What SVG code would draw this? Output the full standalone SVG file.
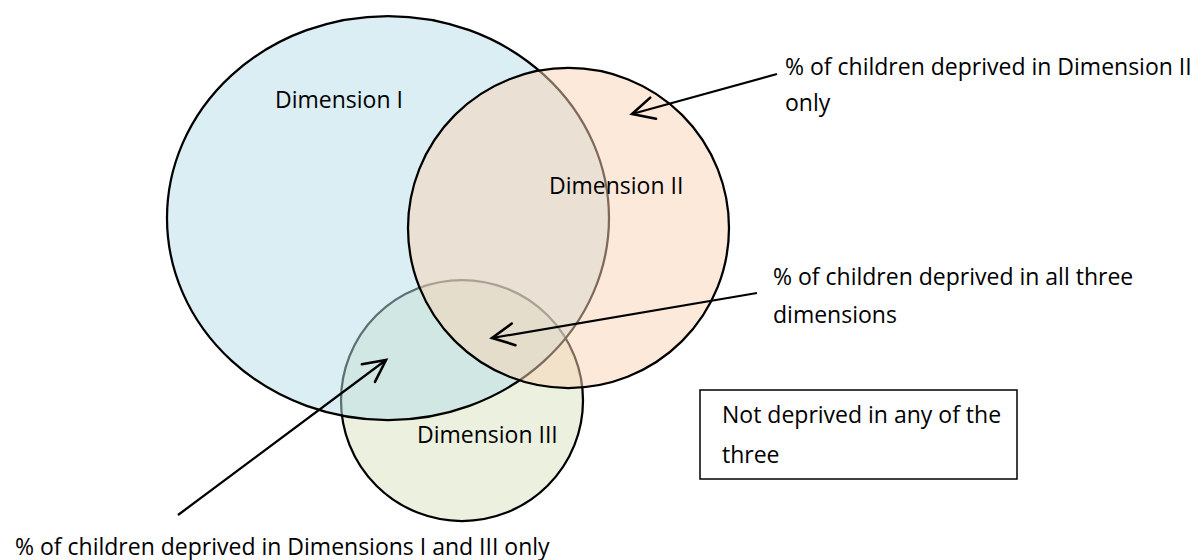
<svg xmlns="http://www.w3.org/2000/svg" width="1202" height="560" viewBox="0 0 1202 560">
<defs>
<style>
.set{stroke:#000;stroke-width:2.25}
.lbl{font-family:"Open Sans","Liberation Sans",sans-serif;font-size:23px;fill:#000}
.conn{stroke:#000;stroke-width:2.25;fill:none}
</style>
<marker id="open" markerUnits="userSpaceOnUse" markerWidth="30" markerHeight="30" viewBox="-22 -12 26 24" refX="0" refY="0" orient="auto">
<path d="M-19,-9.5 L0,0 L-19,9.5" fill="none" stroke="#000" stroke-width="2.25" stroke-linecap="round" stroke-linejoin="miter"/>
</marker>
</defs>
<rect width="1202" height="560" fill="#fff"/>
<g id="dim3">
<ellipse class="set" cx="462" cy="400.5" rx="121" ry="120.5" fill="#D7E1BF" fill-opacity="0.5"/>
</g>
<g id="dim1">
<ellipse class="set" cx="388" cy="218" rx="221" ry="202" fill="#B5DDE7" fill-opacity="0.5"/>
</g>
<g id="dim2">
<ellipse class="set" cx="568.5" cy="228" rx="160.5" ry="160" fill="#F9D3B5" fill-opacity="0.5"/>
</g>
<g id="set-labels">
<text class="lbl" x="275" y="108">Dimension I</text>
<text class="lbl" x="549" y="194">Dimension II</text>
<text class="lbl" x="417" y="443">Dimension III</text>
</g>
<g id="connectors">
<line class="conn" x1="777" y1="74" x2="632" y2="114" marker-end="url(#open)"/>
<line class="conn" x1="757" y1="293" x2="492" y2="338" marker-end="url(#open)"/>
<line class="conn" x1="178" y1="515" x2="386" y2="360" marker-end="url(#open)"/>
</g>
<g id="note-dim2-only">
<text class="lbl" x="785" y="75">% of children deprived in Dimension II</text>
<text class="lbl" x="785" y="111">only</text>
</g>
<g id="note-all-three">
<text class="lbl" x="773" y="285">% of children deprived in all three</text>
<text class="lbl" x="773" y="323">dimensions</text>
</g>
<g id="note-dim1-3">
<text class="lbl" x="15" y="555">% of children deprived in Dimensions I and III only</text>
</g>
<g id="not-deprived">
<rect x="700" y="390" width="317" height="89" fill="#fff" stroke="#000" stroke-width="1.5"/>
<text class="lbl" x="722" y="423">Not deprived in any of the</text>
<text class="lbl" x="722" y="463">three</text>
</g>
</svg>
